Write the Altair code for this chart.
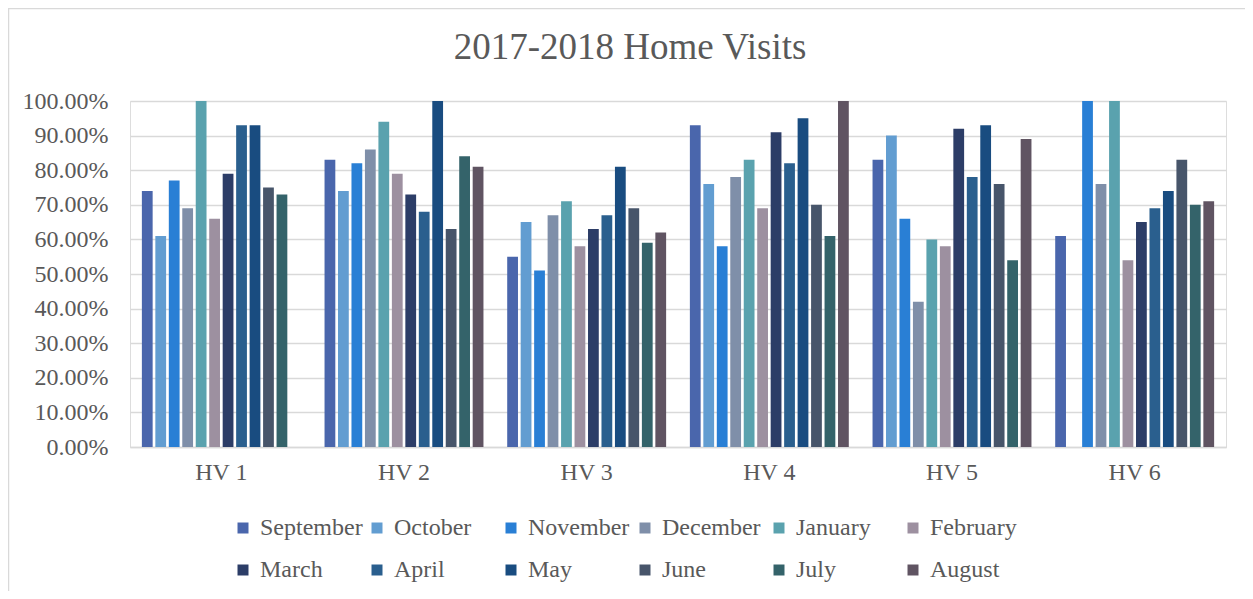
import altair as alt
import pandas as pd

groups = ["HV 1", "HV 2", "HV 3", "HV 4", "HV 5", "HV 6"]
months = ["September", "October", "November", "December", "January", "February",
          "March", "April", "May", "June", "July", "August"]
colors = ["#4A66AC", "#629DD1", "#297FD5", "#7F8FA9", "#5AA2AE", "#9D90A0",
          "#2C3D67", "#2A5F8E", "#194C80", "#47556A", "#34636A", "#605462"]

hv1 = [0.74, 0.61, 0.77, 0.69, 1.00, 0.66, 0.79, 0.93, 0.93, 0.75, 0.73, None]
hv2 = [0.83, 0.74, 0.82, 0.86, 0.94, 0.79, 0.73, 0.68, 1.00, 0.63, 0.84, 0.81]
hv3 = [0.55, 0.65, 0.51, 0.67, 0.71, 0.58, 0.63, 0.67, 0.81, 0.69, 0.59, 0.62]
hv4 = [0.93, 0.76, 0.58, 0.78, 0.83, 0.69, 0.91, 0.82, 0.95, 0.70, 0.61, 1.00]
hv5 = [0.83, 0.90, 0.66, 0.42, 0.60, 0.58, 0.92, 0.78, 0.93, 0.76, 0.54, 0.89]
hv6 = [0.61, None, 1.00, 0.76, 1.00, 0.54, 0.65, 0.69, 0.74, 0.83, 0.70, 0.71]

rows = []
for g, vals in zip(groups, [hv1, hv2, hv3, hv4, hv5, hv6]):
    for m, v in zip(months, vals):
        if v is not None:
            rows.append({"group": g, "month": m, "value": v})
df = pd.DataFrame(rows)

W, H = 1096, 346
FONT = "Liberation Serif"
GREY = "#595959"

bars = alt.Chart(df).mark_bar().encode(
    x=alt.X("group:N", sort=groups, title=None,
            scale=alt.Scale(paddingInner=0.13, paddingOuter=0.065),
            axis=alt.Axis(labelAngle=0, ticks=False, domain=True, domainColor="#D9D9D9",
                          domainWidth=1.5, labelFont=FONT, labelFontSize=24,
                          labelColor=GREY, labelPadding=13, grid=False)),
    xOffset=alt.XOffset("month:N", sort=months,
                        scale=alt.Scale(paddingInner=0.2, paddingOuter=0)),
    y=alt.Y("value:Q", title=None,
            scale=alt.Scale(domain=[0, 1]),
            axis=alt.Axis(values=[i / 10 for i in range(11)], format=".2%",
                          ticks=False, domain=False, grid=True, gridColor="#D9D9D9",
                          gridWidth=1.5, labelFont=FONT, labelFontSize=24,
                          labelColor=GREY, labelPadding=22)),
    color=alt.Color("month:N", sort=months, title=None,
                    scale=alt.Scale(domain=months, range=colors),
                    legend=alt.Legend(orient="none", legendX=101, legendY=415,
                                      columns=6, direction="horizontal",
                                      symbolType="square", symbolSize=121,
                                      symbolStrokeWidth=0, labelFont=FONT,
                                      labelFontSize=24, labelColor=GREY,
                                      labelOffset=5, columnPadding=2,
                                      rowPadding=18, gridAlign="all",
                                      labelLimit=200, padding=0)),
)

border = alt.Chart(pd.DataFrame({"a": [0]})).mark_rect(
    fill=None, stroke="#D9D9D9", strokeWidth=1.5
).encode(
    x=alt.value(-121.5), y=alt.value(-92.5),
    x2=alt.value(W + 40), y2=alt.value(H + 200)
)

chart = alt.layer(border, bars).properties(
    width=W, height=H,
    title=alt.TitleParams("2017-2018 Home Visits", font=FONT, fontSize=37,
                          fontWeight="normal", color=GREY, anchor="middle",
                          baseline="alphabetic", dx=-48, dy=88, offset=0),
    padding={"left": 122, "top": 93, "right": 19, "bottom": 144},
    autosize=alt.AutoSizeParams(type="none"),
).configure_view(stroke=None).configure(
    background="white", font=FONT
).configure_axis(labelFont=FONT).configure_legend(labelFont=FONT)

chart.save("out.html", embed_options={"renderer": "svg", "actions": False})
